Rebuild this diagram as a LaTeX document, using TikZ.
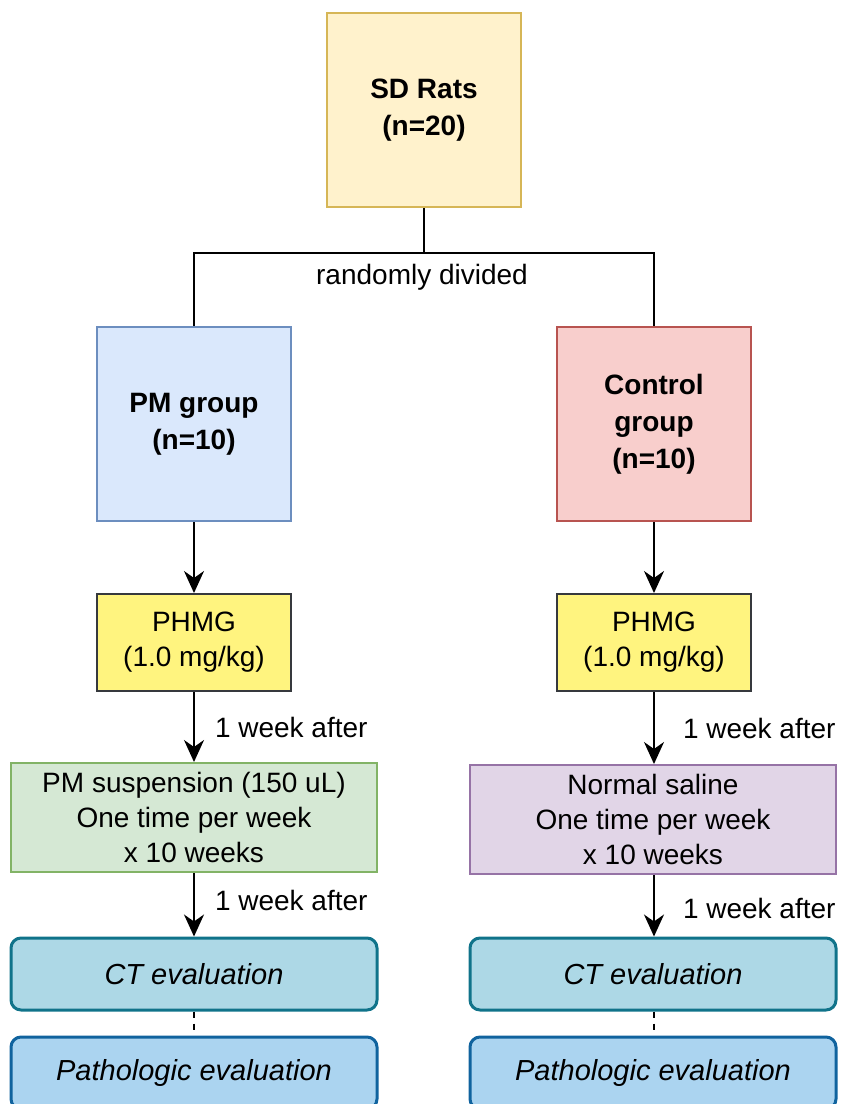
\documentclass[tikz,border=0pt]{standalone}
\usepackage{fontspec}
\setmainfont{Liberation Sans}
\usetikzlibrary{arrows.meta, positioning}
\definecolor{sdfill}{HTML}{FFF2CC}
\definecolor{sdline}{HTML}{D6B656}
\definecolor{pmfill}{HTML}{DAE8FC}
\definecolor{pmline}{HTML}{6C8EBF}
\definecolor{ctfill}{HTML}{F8CECC}
\definecolor{ctline}{HTML}{B85450}
\definecolor{phfill}{HTML}{FFF47F}
\definecolor{phline}{HTML}{36393D}
\definecolor{gnfill}{HTML}{D5E8D4}
\definecolor{gnline}{HTML}{82B366}
\definecolor{pufill}{HTML}{E1D5E7}
\definecolor{puline}{HTML}{9673A6}
\definecolor{evfill}{HTML}{ADD8E6}
\definecolor{evline}{HTML}{10738A}
\definecolor{pafill}{HTML}{ABD4F0}
\definecolor{paline}{HTML}{10639E}
\begin{document}
\begin{tikzpicture}[x=0.5pt, y=-0.5pt,
    font=\fontsize{14}{17.5}\selectfont,
    box/.style={draw, line width=1pt, align=center, inner sep=0pt},
    group box/.style={box, minimum width=97pt, minimum height=97pt, font=\fontsize{14}{18.5}\selectfont\bfseries},
    dose box/.style={box, fill=phfill, draw=phline, minimum width=97pt, minimum height=48.5pt},
    treat box/.style={box, minimum width=183pt, minimum height=54.5pt},
    eval box/.style={box, line width=1.5pt, rounded corners=5pt, minimum width=183pt, minimum height=36pt, font=\fontsize{14.5}{17.5}\selectfont\itshape},
    flow/.style={line width=1pt, -{Stealth[length=11pt, width=10pt, inset=3.5pt]}},
    note/.style={anchor=west, inner sep=0pt}]
 \useasboundingbox (0,0) rectangle (841,1104);
 \clip (0,0) rectangle (841,1104);
 % top level
 \node (sd) [group box, fill=sdfill, draw=sdline] at (424,110) {SD Rats\\(n=20)};
 \node (pm) [group box, fill=pmfill, draw=pmline] at (194,424) {PM group\\(n=10)};
 \node (ctrl) [group box, fill=ctfill, draw=ctline] at (654,424) {Control\\group\\(n=10)};
 \coordinate (split) at (424,253);
 \draw [line width=1pt] (sd.south) -- (split) -| (pm.north);
 \draw [line width=1pt] (split) -| (ctrl.north);
 \node (rand) [inner sep=0pt] at (422,277) {randomly divided};
 % dose
 \node (phmgL) [dose box] at (194,642.5) {PHMG\\(1.0 mg/kg)};
 \node (phmgR) [dose box] at (654,642.5) {PHMG\\(1.0 mg/kg)};
 \draw [flow] (pm) -- (phmgL);
 \draw [flow] (ctrl) -- (phmgR);
 % exposure
 \node (susp) [treat box, fill=gnfill, draw=gnline] at (194,817.5) {PM suspension (150 uL)\\One time per week\\x 10 weeks};
 \node (saline) [treat box, fill=pufill, draw=puline] at (653,819.5) {Normal saline\\One time per week\\x 10 weeks};
 \draw [flow] (phmgL) -- node[note, xshift=10pt] {1 week after} (susp.north -| phmgL);
 \draw [flow] (phmgR) -- node[note, xshift=14pt] {1 week after} (saline.north -| phmgR);
 % evaluation
 \node (ctL) [eval box, fill=evfill, draw=evline] at (194,974) {CT evaluation};
 \node (ctR) [eval box, fill=evfill, draw=evline] at (653,974) {CT evaluation};
 \node (pathL) [eval box, fill=pafill, draw=paline] at (194,1073) {Pathologic evaluation};
 \node (pathR) [eval box, fill=pafill, draw=paline] at (653,1073) {Pathologic evaluation};
 \draw [flow] (susp.south -| phmgL) -- node[note, xshift=10pt, yshift=2pt] {1 week after} (ctL.north -| phmgL);
 \draw [flow] (saline.south -| phmgR) -- node[note, xshift=14pt, yshift=-1.5pt] {1 week after} (ctR.north -| phmgR);
 \draw [line width=1pt, dashed] (ctL) -- (pathL);
 \draw [line width=1pt, dashed] (ctR.south -| phmgR) -- (pathR.north -| phmgR);
\end{tikzpicture}
\end{document}
